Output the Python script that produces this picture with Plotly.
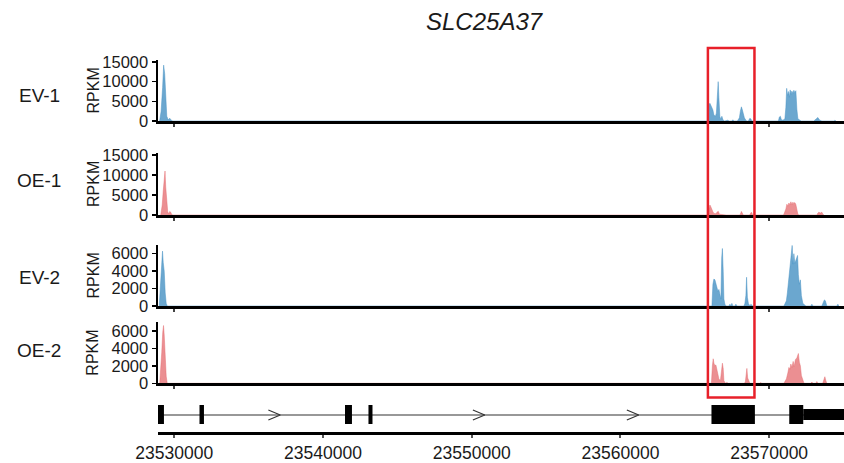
import plotly.graph_objects as go

W, H = 844, 463

title = "SLC25A37"
track_names = ["EV-1", "OE-1", "EV-2", "OE-2"]
track_colors = ["rgba(70,145,195,0.8)", "rgba(228,105,110,0.75)",
                "rgba(70,145,195,0.8)", "rgba(228,105,110,0.75)"]

# coverage (genomic position, RPKM)
ev1_pos = [23529020, 23529120, 23529220, 23529290, 23529360, 23529430, 23529500, 23529600, 23529700, 23529800, 23529900,
           23565881, 23565948, 23566015, 23566082, 23566149, 23566216, 23566283, 23566384, 23566451, 23566518, 23566572,
           23566619, 23566686, 23566753, 23566821, 23566888, 23567000, 23567224, 23567300, 23567500, 23567560, 23567620,
           23567850, 23567896, 23567997, 23568064, 23568132, 23568199, 23568266, 23568333, 23568434, 23568500,
           23568600, 23568635, 23568703, 23568770, 23568837,
           23570618, 23570685, 23570753, 23570820, 23570921, 23571055, 23571122, 23571176, 23571243, 23571310,
           23571357, 23571411, 23571472, 23571525, 23571593, 23571660, 23571727, 23571794, 23571861, 23571929,
           23572063, 23572150, 23573000, 23573071, 23573205, 23573273, 23573340, 23573407, 23573542,
           23574380, 23574416, 23574483]
ev1_val = [0, 2500, 8500, 14200, 12000, 5500, 1200, 300, 700, 200, 0,
           0, 4200, 4500, 3800, 3000, 2800, 1500, 1200, 2000, 7500, 10000,
           6000, 1000, 600, 1200, 300, 0, 200, 0, 0, 300, 0,
           0, 200, 800, 2500, 3600, 2800, 1500, 800, 200, 0,
           0, 300, 700, 500, 0,
           0, 1000, 1200, 300, 200, 500, 3500, 8300, 6500, 7500,
           6000, 7900, 6800, 7600, 7000, 7800, 7200, 7700, 3000, 600,
           200, 0, 0, 300, 600, 900, 500, 200, 0,
           0, 200, 0]

oe1_pos = [23529093, 23529194, 23529261, 23529328, 23529382, 23529429, 23529496, 23529563, 23529630, 23529697,
           23529765, 23529832, 23529900,
           23565900, 23565948, 23566015, 23566082, 23566149, 23566216, 23566283, 23566418, 23566518, 23566585,
           23566652, 23567023, 23567100,
           23568000, 23568064, 23568132, 23568199, 23568260, 23568680, 23568737, 23568804, 23568871, 23568930,
           23570950, 23570988, 23571122, 23571189, 23571257, 23571324, 23571391, 23571458, 23571525, 23571593,
           23571660, 23571727, 23571794, 23571861, 23571929, 23572000,
           23573220, 23573273, 23573340, 23573441, 23573542, 23573609, 23573680]
oe1_val = [0, 2500, 6000, 10500, 11000, 7000, 3000, 800, 300, 900,
           700, 100, 0,
           0, 1500, 2500, 2000, 1200, 800, 400, 300, 800, 900,
           200, 100, 0,
           0, 200, 900, 300, 0, 0, 300, 700, 200, 0,
           0, 200, 1500, 2700, 2200, 3000, 2500, 3300, 2600, 3200,
           2900, 3100, 2600, 1200, 200, 0,
           0, 500, 700, 500, 700, 200, 0]

ev2_pos = [23528992, 23529059, 23529126, 23529173, 23529214, 23529261, 23529328, 23529395, 23529462, 23529530,
           23566150, 23566217, 23566284, 23566351, 23566418, 23566485, 23566553, 23566620, 23566687, 23566754,
           23566808, 23566855, 23566909, 23566956, 23567023, 23567100, 23567300, 23567359, 23567420, 23567493,
           23567560, 23567700, 23567762, 23567830,
           23568300, 23568367, 23568434, 23568481, 23568535, 23568602, 23568703, 23568770, 23568837, 23568900,
           23570990, 23571055, 23571156, 23571223, 23571290, 23571357, 23571424, 23571491, 23571545, 23571605,
           23571659, 23571726, 23571794, 23571908, 23571962, 23572029, 23572097, 23572164, 23572265, 23572399,
           23572470, 23572800, 23572869, 23572940, 23573540, 23573609, 23573709, 23573776, 23573877,
           23574550, 23574617, 23574680]
ev2_val = [0, 2000, 4500, 6000, 6300, 5000, 4000, 1500, 300, 0,
           0, 2500, 3100, 3000, 2600, 1900, 1700, 1900, 1200, 800,
           5500, 6600, 4000, 800, 200, 0, 0, 200, 0, 300,
           0, 0, 200, 0,
           0, 300, 1200, 3300, 1000, 300, 0, 200, 100, 0,
           0, 200, 600, 1500, 2500, 3500, 4500, 5500, 6950, 4800,
           6000, 4900, 5200, 5800, 3600, 2500, 3000, 1200, 300, 100,
           0, 0, 200, 0, 0, 300, 700, 600, 0,
           0, 200, 0]

oe2_pos = [23529026, 23529093, 23529160, 23529227, 23529281, 23529328, 23529395, 23529462, 23529530,
           23566116, 23566183, 23566237, 23566284, 23566351, 23566418, 23566485, 23566553, 23566620, 23566720,
           23566788, 23566855, 23566909, 23566956, 23567060, 23567157, 23567250,
           23568340, 23568400, 23568454, 23568501, 23568555, 23568635, 23568700,
           23569380, 23569442, 23569500,
           23570990, 23571055, 23571156, 23571257, 23571324, 23571391, 23571458, 23571525, 23571613, 23571680,
           23571760, 23571861, 23571962, 23572029, 23572097, 23572164, 23572265, 23572340,
           23572800, 23572869, 23572940, 23573140, 23573205, 23573270, 23573600, 23573676, 23573743, 23573810, 23573877]
oe2_val = [0, 1500, 3500, 5800, 6600, 5500, 3000, 800, 0,
           0, 2000, 2800, 2300, 2000, 2100, 1400, 800, 500, 300,
           1200, 2300, 1700, 300, 0, 100, 0,
           0, 200, 1200, 1700, 600, 100, 0,
           0, 100, 0,
           0, 200, 500, 1200, 1800, 1600, 2200, 1800, 2500, 1900,
           2700, 2900, 3400, 2400, 2000, 900, 200, 0,
           0, 150, 0, 0, 200, 0, 0, 400, 750, 300, 0]

track_pos = [ev1_pos, oe1_pos, ev2_pos, oe2_pos]
track_val = [ev1_val, oe1_val, ev2_val, oe2_val]
track_ymax = [15500, 15500, 7000, 7000]
track_ticks = [[0, 5000, 10000, 15000], [0, 5000, 10000, 15000], [0, 2000, 4000, 6000], [0, 2000, 4000, 6000]]

# gene model
exon_starts = [23528900, 23531700, 23541480, 23543060, 23566120, 23571350]
exon_ends = [23529310, 23532000, 23541950, 23543330, 23569040, 23572290]
utr_start, utr_end = 23572290, 23576000
intron_start, intron_end = 23528900, 23576000
arrow_tips = [23537130, 23550880, 23561230]

x_ticks = [23530000, 23540000, 23550000, 23560000, 23570000]
x_range = [23528910, 23575030]
highlight = [23565880, 23569010]

# layout (pixel boxes of each panel: top, bottom)
track_px = [(60, 121), (153, 215), (245, 306), (322, 383.3)]
label_y_px = [95, 180, 277, 350]
gene_px = (398, 432)
x_left_px = 158

def py(px):
    return 1 - px / H

fig = go.Figure()
FONT = "Liberation Sans, Arial, sans-serif"
layout = dict(width=W, height=H, margin=dict(l=0, r=0, t=0, b=0, autoexpand=False),
              paper_bgcolor="white", plot_bgcolor="white", showlegend=False,
              font=dict(family=FONT, color="#1a1a1a"))
annotations = []
shapes = []

for i in range(4):
    n = i + 1
    xa = "x" if n == 1 else f"x{n}"
    ya = "y" if n == 1 else f"y{n}"
    fig.add_trace(go.Scatter(x=track_pos[i], y=track_val[i], mode="lines", fill="tozeroy",
                             line=dict(width=0.6, color=track_colors[i]), fillcolor=track_colors[i],
                             xaxis=xa, yaxis=ya, hoverinfo="skip"))
    top, bot = track_px[i]
    layout[f"xaxis{'' if n == 1 else n}"] = dict(
        domain=[x_left_px / W, 1], range=x_range, anchor=ya, showline=True, linewidth=3, linecolor="black",
        showgrid=False, zeroline=False, tickvals=[23530000, 23570000], ticks="outside", ticklen=3,
        tickwidth=2, tickcolor="#444", showticklabels=False, automargin=False,
        **({} if n == 1 else dict(matches="x")))
    layout[f"yaxis{'' if n == 1 else n}"] = dict(
        domain=[py(bot), py(top)], range=[0, track_ymax[i]], anchor=xa, showline=True, linewidth=2.5,
        linecolor="black", showgrid=False, zeroline=False, tickvals=track_ticks[i],
        ticktext=[str(v) for v in track_ticks[i]], ticks="outside", automargin=False,
        ticklen=4, tickwidth=1.5, tickcolor="black", tickfont=dict(size=16.5, family=FONT, color="#1a1a1a"))
    annotations.append(dict(text=track_names[i], x=39 / W, y=py(label_y_px[i]), xref="paper", yref="paper",
                            showarrow=False, font=dict(size=19, family=FONT, color="#1a1a1a"),
                            xanchor="center", yanchor="middle"))
    annotations.append(dict(text="RPKM", x=93 / W, y=py((top + bot) / 2), xref="paper", yref="paper",
                            showarrow=False, textangle=-90, font=dict(size=16, family=FONT, color="#1a1a1a"),
                            xanchor="center", yanchor="middle"))

# gene track (y units: pixels above the axis line)
gh = gene_px[1] - gene_px[0]
mid = 17
fig.add_trace(go.Scatter(x=[intron_start, intron_end], y=[mid, mid], mode="lines",
                         line=dict(color="#333", width=1.2), xaxis="x5", yaxis="y5", hoverinfo="skip"))
for t in arrow_tips:
    fig.add_trace(go.Scatter(x=[t - 800, t, t - 800], y=[mid + 5, mid, mid - 5], mode="lines",
                             line=dict(color="#333", width=1.2), xaxis="x5", yaxis="y5", hoverinfo="skip"))
for s, e in zip(exon_starts, exon_ends):
    shapes.append(dict(type="rect", xref="x5", yref="y5", x0=s, x1=e, y0=mid - 9, y1=mid + 10,
                       fillcolor="black", line=dict(width=0)))
shapes.append(dict(type="rect", xref="x5", yref="y5", x0=utr_start, x1=utr_end, y0=mid - 5, y1=mid + 6,
                   fillcolor="black", line=dict(width=0)))
layout["xaxis5"] = dict(domain=[x_left_px / W, 1], range=x_range, anchor="y5", matches="x", showline=True,
                        linewidth=3, linecolor="black", showgrid=False, zeroline=False, tickvals=x_ticks,
                        ticktext=[str(v) for v in x_ticks], ticks="outside", ticklen=3, tickwidth=2,
                        tickcolor="#555", automargin=False, tickfont=dict(size=17.5, family=FONT, color="#1a1a1a"))
layout["yaxis5"] = dict(domain=[py(gene_px[1]), py(gene_px[0])], range=[0, gh], anchor="x5", visible=False)

# highlight box
shapes.append(dict(type="rect", xref="x5", yref="paper", x0=highlight[0], x1=highlight[1],
                   y0=py(397.5), y1=py(48), line=dict(color="#e8202a", width=2.5), fillcolor="rgba(0,0,0,0)"))

annotations.append(dict(text=f"<i>{title}</i>", x=485 / W, y=py(21), xref="paper", yref="paper",
                        showarrow=False, font=dict(size=24, family=FONT, color="#1a1a1a"),
                        xanchor="center", yanchor="middle"))

layout["annotations"] = annotations
layout["shapes"] = shapes
fig.update_layout(**layout)
fig.write_html("out.html", config={"displayModeBar": False, "staticPlot": True},
               post_script="document.body.style.margin='0';document.body.style.overflow='hidden';")
